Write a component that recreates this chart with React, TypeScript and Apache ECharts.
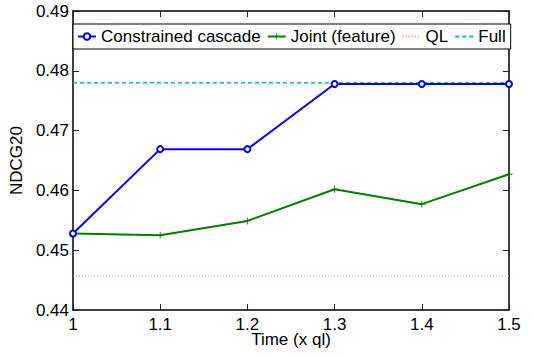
import React, { useEffect, useRef } from "react";
import * as echarts from "echarts";

const times = [1, 1.1, 1.2, 1.3, 1.4, 1.5];
const constrained = [0.4528, 0.4669, 0.4669, 0.4778, 0.4778, 0.4778];
const joint = [0.4528, 0.4525, 0.4549, 0.4602, 0.4577, 0.4627];
const qlValue = 0.4457;
const fullValue = 0.478;
const seriesNames = ["Constrained cascade", "Joint (feature)", "QL", "Full"];
const xLabel = "Time (x ql)";
const yLabel = "NDCG20";

const FONT = "Liberation Sans, Arial, Helvetica, sans-serif";

export default function App() {
  const ref = useRef<HTMLDivElement>(null);
  useEffect(() => {
    document.body.style.margin = "0";
    const chart = echarts.init(ref.current!, null, { renderer: "svg" });
    const pair = (ys: number[]) => times.map((t, i) => [t, ys[i]]);
    const flat = (v: number) => [[times[0], v], [times[times.length - 1], v]];
    const axisCommon = {
      axisLine: { show: true, lineStyle: { color: "#000", width: 1.5 } },
      axisTick: { show: true, inside: true, length: 6, lineStyle: { color: "#222", width: 1 } },
      splitLine: { show: false },
    };
    chart.setOption({
      animation: false,
      backgroundColor: "#fff",
      textStyle: { fontFamily: FONT },
      grid: { left: 70, right: 24, top: 11, bottom: 48, containLabel: false },
      legend: {
        left: 73,
        top: 24,
        width: 440,
        padding: [4, 5, 4, 4],
        itemGap: 6,
        itemWidth: 18,
        itemHeight: 8,
        borderColor: "#000",
        borderWidth: 1,
        backgroundColor: "#fff",
        textStyle: { fontFamily: FONT, fontSize: 17, color: "#000" },
        data: [
          { name: seriesNames[0] },
          { name: seriesNames[1] },
          { name: seriesNames[2], itemStyle: { opacity: 0 } },
          { name: seriesNames[3], itemStyle: { opacity: 0 } },
        ],
      },
      xAxis: [
        {
          type: "value",
          min: 1,
          max: 1.5,
          interval: 0.1,
          name: xLabel,
          nameLocation: "middle",
          nameGap: 21,
          nameMoveOverlap: false,
          nameTextStyle: { fontFamily: FONT, fontSize: 17, color: "#000" },
          axisLabel: {
            color: "#000",
            fontSize: 17,
            fontFamily: FONT,
            margin: 6,
            formatter: (v: number) => String(Math.round(v * 10) / 10),
          },
          ...axisCommon,
        },
        {
          type: "value",
          position: "top",
          min: 1,
          max: 1.5,
          interval: 0.1,
          axisLabel: { show: false },
          ...axisCommon,
        },
      ],
      yAxis: [
        {
          type: "value",
          min: 0.44,
          max: 0.49,
          interval: 0.01,
          name: yLabel,
          nameLocation: "middle",
          nameGap: 48,
          nameMoveOverlap: false,
          nameTextStyle: { fontFamily: FONT, fontSize: 17, color: "#000" },
          axisLabel: {
            color: "#000",
            fontSize: 17,
            fontFamily: FONT,
            margin: 4,
            formatter: (v: number) => v.toFixed(2),
          },
          ...axisCommon,
        },
        {
          type: "value",
          position: "right",
          min: 0.44,
          max: 0.49,
          interval: 0.01,
          axisLabel: { show: false },
          ...axisCommon,
        },
      ],
      series: [
        {
          name: seriesNames[0],
          type: "line",
          data: pair(constrained),
          symbol: "emptyCircle",
          symbolSize: 6,
          z: 4,
          lineStyle: { color: "#0000ff", width: 2 },
          itemStyle: { color: "#0000ff", borderColor: "#0000ff", borderWidth: 1.3 },
        },
        {
          name: seriesNames[1],
          type: "line",
          data: pair(joint),
          symbol: "path://M-0.6,-5 h1.2 v4.4 h4.4 v1.2 h-4.4 v4.4 h-1.2 v-4.4 h-4.4 v-1.2 h4.4 z",
          symbolSize: 7,
          z: 3,
          lineStyle: { color: "#008000", width: 2 },
          itemStyle: { color: "#008000" },
        },
        {
          name: seriesNames[2],
          type: "line",
          data: flat(qlValue),
          symbol: "none",
          z: 2,
          lineStyle: { color: "#ff7070", width: 1, type: [1, 2] },
          itemStyle: { color: "#ff7070" },
        },
        {
          name: seriesNames[3],
          type: "line",
          data: flat(fullValue),
          symbol: "none",
          z: 2,
          lineStyle: { color: "#00bfbf", width: 1.5, type: [4, 3] },
          itemStyle: { color: "#00bfbf" },
        },
      ],
    });
    return () => chart.dispose();
  }, []);
  return <div ref={ref} style={{ width: 533, height: 358 }} />;
}
